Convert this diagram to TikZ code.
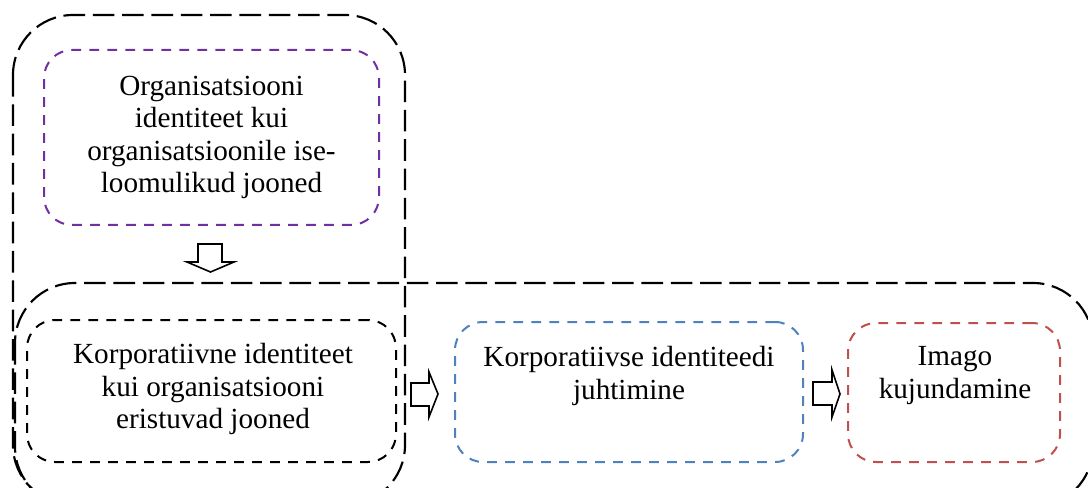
\documentclass[tikz,border=0pt]{standalone}
\usepackage{fontspec}
\setmainfont{Liberation Serif}
\definecolor{vpurple}{HTML}{7030A0}
\definecolor{vblue}{HTML}{4F81BD}
\definecolor{vred}{HTML}{C0504D}
\begin{document}
\begin{tikzpicture}[x=0.75pt,y=-0.75pt,
  big/.style={draw=black,line width=1.6pt,dash pattern=on 16.2pt off 5.8pt,rounded corners=45pt},
  smallbox/.style={draw=#1,line width=1.5pt,dash pattern=on 7.3pt off 6.2pt,rounded corners=21pt,inner sep=0pt},
  lbl/.style={align=center,font=\fontsize{21.9}{24.4}\selectfont,inner sep=0pt},
  barrow/.style={draw=black,fill=white,line width=1.2pt,line join=miter}]
\useasboundingbox (0,0) rectangle (1088,488);
\clip (0,0) rectangle (1088,488);
% large dashed frames
\draw[big] (13,15) rectangle (405,505);
\draw[big] (15,283) rectangle (1093,507);
% boxes
\node[smallbox=vpurple,minimum width=251.25pt,minimum height=131.25pt] (org) at (211.5,137.5) {};
\node[lbl] (orgt) at (211.5,137.5) {Organisatsiooni\\identiteet kui\\organisatsioonile ise-\\loomulikud jooned};
\node[smallbox=black,minimum width=276.75pt,minimum height=106.5pt] (korp) at (211.5,391) {};
\node[lbl] (korpt) at (213,389) {Korporatiivne identiteet\\kui organisatsiooni\\eristuvad jooned};
\node[smallbox=vblue,minimum width=261pt,minimum height=105pt] (juht) at (629,392) {};
\node[lbl] (juhtt) at (629,376) {Korporatiivse identiteedi\\juhtimine};
\node[smallbox=vred,minimum width=159pt,minimum height=104.25pt] (imago) at (954,392.5) {};
\node[lbl] (imagot) at (955,375.5) {Imago\\kujundamine};
% block arrows
\draw[barrow] (198,244) -- (222,244) -- (222,262) -- (234,262) -- (210.5,272) -- (187,262) -- (198,262) -- cycle;
\draw[barrow] (411,383) -- (429,383) -- (429,372) -- (438,394) -- (429,417) -- (429,406) -- (411,406) -- cycle;
\draw[barrow] (813,382) -- (832,382) -- (832,370) -- (840,394) -- (832,417) -- (832,405) -- (813,405) -- cycle;
\end{tikzpicture}
\end{document}
